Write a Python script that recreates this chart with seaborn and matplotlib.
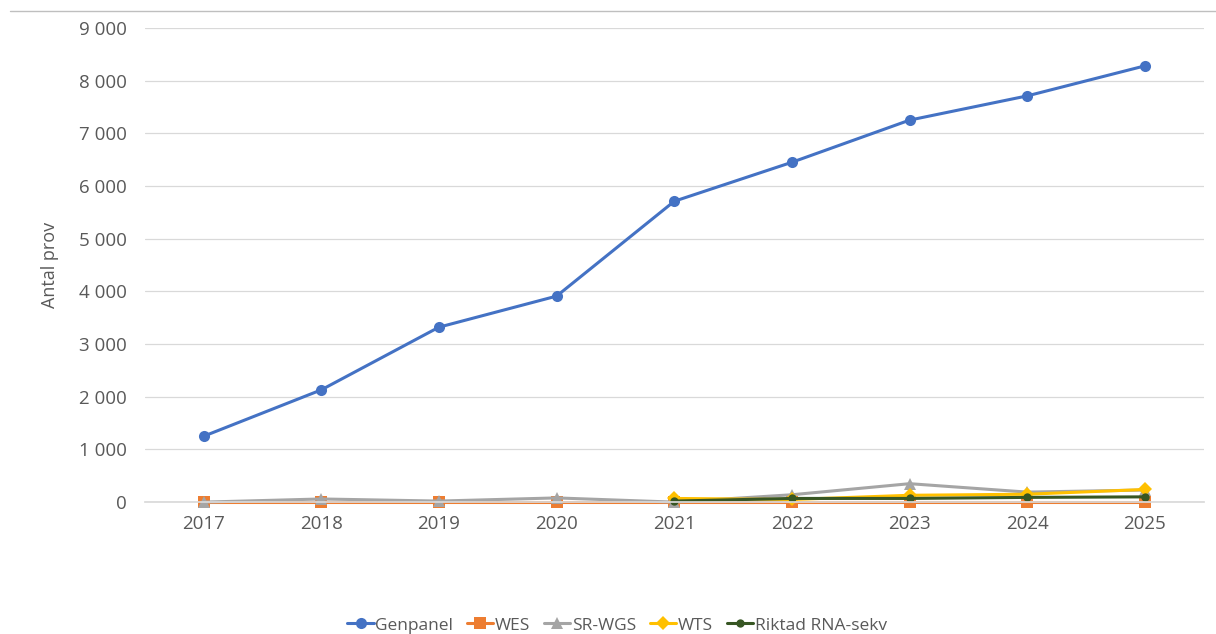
import numpy as np
import pandas as pd
import matplotlib
matplotlib.use("Agg")
import matplotlib.pyplot as plt
import matplotlib.ticker as mticker
from matplotlib.lines import Line2D
import seaborn as sns

years = [2017, 2018, 2019, 2020, 2021, 2022, 2023, 2024, 2025]

genpanel = [1250, 2130, 3320, 3910, 5710, 6450, 7250, 7710, 8280]
wes = [0, 0, 0, 0, 0, 0, 0, 0, 0]
sr_wgs = [0, 60, 20, 80, 0, 140, 350, 190, 230]
wts = [np.nan, np.nan, np.nan, np.nan, 70, 50, 130, 150, 240]
riktad = [np.nan, np.nan, np.nan, np.nan, 20, 70, 70, 90, 100]

series_names = ["Genpanel", "WES", "SR-WGS", "WTS", "Riktad RNA-sekv"]
series_values = [genpanel, wes, sr_wgs, wts, riktad]
colors = ["#4472C4", "#ED7D31", "#A5A5A5", "#FFC000", "#375623"]
markers = ["o", "s", "^", "D", "o"]
msizes = [8, 8, 8, 7, 6]

sns.set_theme(style="white")
plt.rcParams["font.family"] = ["Open Sans", "DejaVu Sans"]

fig = plt.figure(figsize=(12.16, 6.34), dpi=100)
ax = fig.add_axes([0.119, 0.208, 0.871, 0.748])

x = np.arange(len(years))
for name, vals, col, mk, ms in zip(series_names, series_values, colors, markers, msizes):
    df = pd.DataFrame({"x": x, "y": vals}).dropna()
    sns.lineplot(data=df, x="x", y="y", ax=ax, color=col, marker=mk,
                 markersize=ms, markeredgewidth=0, linewidth=2.2, label=name,
                 clip_on=False)

ax.set_xlim(-0.5, len(years) - 0.5)
ax.set_ylim(0, 9000)
ax.set_xticks(x)
ax.set_xticklabels([str(y) for y in years])
ax.yaxis.set_major_locator(mticker.MultipleLocator(1000))
ax.yaxis.set_major_formatter(mticker.FuncFormatter(lambda v, p: f"{int(v):,}".replace(",", " ")))
ax.grid(axis="y", color="#D9D9D9", linewidth=0.9)
ax.set_axisbelow(True)
for s in ["top", "right", "left"]:
    ax.spines[s].set_visible(False)
ax.spines["bottom"].set_color("#D9D9D9")
ax.tick_params(axis="both", labelsize=13.5, colors="#595959", length=0)
ax.tick_params(axis="x", pad=9)
ax.tick_params(axis="y", pad=13)
ax.set_xlabel("")
ax.set_ylabel("Antal prov", fontsize=13, color="#595959", labelpad=14)

handles, labels = ax.get_legend_handles_labels()
ax.legend(handles, labels, loc="center", bbox_to_anchor=(0.446, -0.26), ncol=5,
          frameon=False, fontsize=12.5, labelcolor="#595959", handlelength=1.5,
          handletextpad=0.1, columnspacing=0.8)

fig.add_artist(Line2D([0.008, 1.0], [0.983, 0.983], color="#BFBFBF", linewidth=1))

fig.savefig("out.png", dpi=100)
